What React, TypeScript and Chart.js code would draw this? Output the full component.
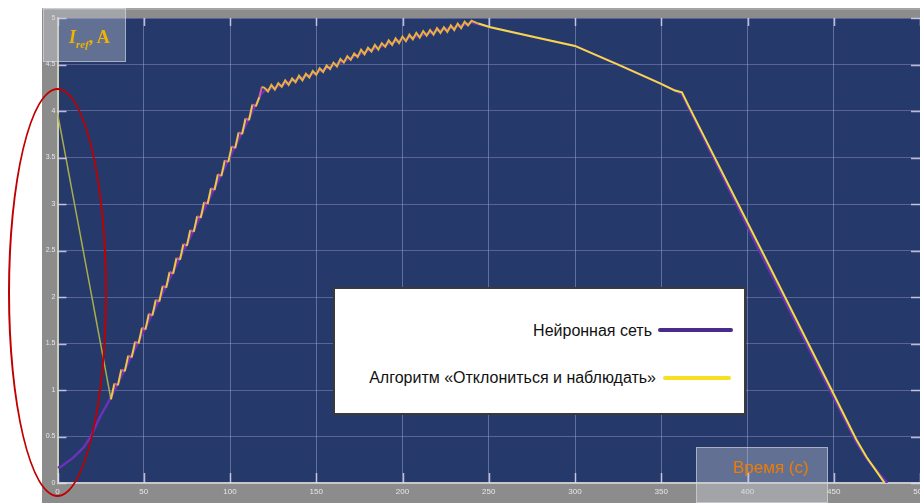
import React, { useEffect, useRef } from "react";
import { Chart, registerables } from "chart.js";

Chart.register(...registerables);

// Time axis ticks (s) and current axis ticks (A)
const xTickValues = [0, 50, 100, 150, 200, 250, 300, 350, 400, 450, 500];
const yTickValues = [0, 0.5, 1, 1.5, 2, 2.5, 3, 3.5, 4, 4.5, 5];

// Neural network series
const nnX = [0, 1.5, 9, 15, 19, 24.6, 31, 118, 120, 130, 140, 150, 160, 170, 180, 190, 200, 210, 220, 230, 240, 251, 275, 300, 326, 349, 358, 362, 409, 448, 463, 470, 481];
const nnY = [0.17, 0.17, 0.27, 0.38, 0.49, 0.71, 0.92, 4.18, 4.22, 4.28, 4.35, 4.41, 4.49, 4.57, 4.65, 4.71, 4.77, 4.81, 4.86, 4.9, 4.95, 4.9, 4.8, 4.7, 4.49, 4.3, 4.22, 4.18, 2.42, 0.99, 0.44, 0.24, 0.0];

// Perturb & Observe series
const poX = [
  0, 31, 33, 35, 37, 39, 41, 43, 45, 47, 49, 51, 53, 55, 57, 59, 61, 63, 65, 67, 69, 71, 73, 75, 77, 79, 81, 83, 85, 87, 89, 91, 93, 95, 97, 99, 101, 103, 105, 107, 109, 111, 113, 115, 117, 118.5,
  120, 122, 124, 126, 128, 130, 132, 134, 136, 138, 140, 142, 144, 146, 148, 150, 152, 154, 156, 158, 160, 162, 164, 166, 168, 170, 172, 174, 176, 178, 180, 182, 184, 186, 188, 190, 192, 194, 196, 198, 200, 202, 204, 206, 208, 210, 212, 214, 216, 218, 220, 222, 224, 226, 228, 230, 232, 234, 236, 238, 240,
  244, 251, 275, 300, 326, 349, 358, 362, 366, 409, 448, 463, 469, 475, 479.5,
];
const poY = [
  3.98, 0.9, 1.07, 1.05, 1.22, 1.2, 1.37, 1.35, 1.52, 1.5, 1.67, 1.65, 1.82, 1.8, 1.97, 1.95, 2.12, 2.1, 2.27, 2.25, 2.42, 2.4, 2.57, 2.55, 2.72, 2.7, 2.87, 2.85, 3.02, 3.0, 3.17, 3.15, 3.32, 3.3, 3.47, 3.45, 3.62, 3.6, 3.77, 3.75, 3.92, 3.9, 4.07, 4.05, 4.15, 4.26,
  4.25, 4.21, 4.28, 4.23, 4.3, 4.26, 4.33, 4.28, 4.35, 4.31, 4.38, 4.33, 4.4, 4.36, 4.43, 4.39, 4.46, 4.42, 4.49, 4.45, 4.52, 4.48, 4.56, 4.52, 4.59, 4.55, 4.62, 4.58, 4.66, 4.61, 4.68, 4.64, 4.71, 4.66, 4.73, 4.69, 4.76, 4.71, 4.78, 4.73, 4.8, 4.75, 4.82, 4.77, 4.84, 4.79, 4.86, 4.81, 4.87, 4.82, 4.89, 4.84, 4.9, 4.85, 4.92, 4.87, 4.94, 4.89, 4.96, 4.92, 4.97,
  4.94, 4.9, 4.8, 4.7, 4.49, 4.3, 4.22, 4.2, 4.05, 2.47, 1.03, 0.47, 0.28, 0.12, 0.0,
];

const legendLabels = ["Нейронная сеть", "Алгоритм «Отклониться и наблюдать»"];

const NAVY = "#25396a";
const FRAME = "#8c8c8c";

const framePlugin = {
  id: "frame",
  beforeDraw(chart: any) {
    const { ctx, chartArea, width, height } = chart;
    ctx.save();
    ctx.fillStyle = "#ffffff";
    ctx.fillRect(0, 0, width, height);
    ctx.fillStyle = FRAME;
    ctx.fillRect(42, 8, width - 42, height - 8);
    ctx.fillStyle = "#a4a4a4";
    ctx.fillRect(42, 8, width - 42, 2);
    ctx.fillStyle = NAVY;
    ctx.fillRect(chartArea.left, chartArea.top, chartArea.right - chartArea.left, chartArea.bottom - chartArea.top);
    ctx.restore();
  },
  afterDatasetsDraw(chart: any) {
    const { ctx, chartArea, scales } = chart;
    ctx.save();
    ctx.strokeStyle = "rgba(225,220,245,0.8)";
    ctx.lineWidth = 1.5;
    scales.y.ticks.forEach((t: any) => {
      const py = Math.round(scales.y.getPixelForValue(t.value)) + 0.5;
      ctx.beginPath();
      ctx.moveTo(chartArea.left, py);
      ctx.lineTo(chartArea.left + 9, py);
      ctx.moveTo(chartArea.right - 9, py);
      ctx.lineTo(chartArea.right, py);
      ctx.stroke();
    });
    scales.x.ticks.forEach((t: any) => {
      const px = Math.round(scales.x.getPixelForValue(t.value)) + 0.5;
      ctx.beginPath();
      ctx.moveTo(px, chartArea.bottom);
      ctx.lineTo(px, chartArea.bottom - 10);
      ctx.moveTo(px, chartArea.top);
      ctx.lineTo(px, chartArea.top + 8);
      ctx.stroke();
    });
    ctx.restore();
  },
};

function poColor(ctx: any) {
  const x = ctx.p0.parsed.x;
  if (x < 30) return "#a9ad4c";
  if (x < 118) return ctx.p0DataIndex % 2 === 1 ? "#f0c844" : "#d0609a";
  if (x < 241) return "#e8b23c";
  return "#f0dc40";
}

export default function App() {
  const ref = useRef<HTMLCanvasElement>(null);

  useEffect(() => {
    if (!ref.current) return;
    const nnData = nnX.map((x, i) => ({ x, y: nnY[i] }));
    const poData = poX.map((x, i) => ({ x, y: poY[i] }));
    const chart = new Chart(ref.current, {
      type: "line",
      data: {
        datasets: [
          {
            label: legendLabels[1],
            data: poData,
            borderColor: "#f0dc40",
            borderWidth: 2,
            pointRadius: 0,
            tension: 0,
            order: 1,
            segment: {
              borderColor: poColor,
              borderWidth: (c: any) => (c.p0.parsed.x < 30 ? 1.5 : 2),
            },
          },
          {
            label: legendLabels[0],
            data: nnData,
            borderColor: "#6b32b8",
            borderWidth: 2.5,
            pointRadius: 0,
            tension: 0,
            order: 2,
          },
        ],
      },
      options: {
        animation: false,
        responsive: true,
        maintainAspectRatio: false,
        layout: { padding: { left: 42, top: 18, right: 0, bottom: 0 } },
        plugins: { legend: { display: false }, tooltip: { enabled: false } },
        scales: {
          x: {
            type: "linear",
            min: 0,
            max: 500,
            afterBuildTicks: (s: any) => {
              s.ticks = xTickValues.map((v) => ({ value: v }));
            },
            afterFit: (s: any) => {
              s.height = 20;
              s.paddingLeft = 0;
              s.paddingRight = 0;
            },
            ticks: {
              color: "#e6e6e6",
              font: { family: "Liberation Sans", size: 8 },
              padding: 4,
              maxRotation: 0,
              autoSkip: false,
              callback: (v: any) => String(v),
            },
            grid: { color: "rgba(185,185,225,0.42)", lineWidth: 1, drawTicks: false },
            border: { display: true, color: "#c9c9c9", width: 2 },
          },
          y: {
            type: "linear",
            min: 0,
            max: 5,
            afterBuildTicks: (s: any) => {
              s.ticks = yTickValues.map((v) => ({ value: v }));
            },
            afterFit: (s: any) => {
              s.width = 15.5;
              s.paddingTop = 0;
              s.paddingBottom = 0;
            },
            ticks: {
              color: "#e6e6e6",
              font: { family: "Liberation Sans", size: 7 },
              padding: 2,
              autoSkip: false,
              callback: (v: any) => String(v),
            },
            grid: { color: "rgba(165,155,215,0.42)", lineWidth: 1, drawTicks: false },
            border: { display: true, color: "#cfcdb0", width: 2 },
          },
        },
      },
      plugins: [framePlugin],
    });
    return () => chart.destroy();
  }, []);

  return (
    <div style={{ position: "fixed", left: 0, top: 0, width: 920, height: 503, overflow: "hidden", background: "#fff" }}>
      <canvas ref={ref} width={920} height={503} style={{ position: "absolute", left: 0, top: 0, width: 920, height: 503 }} />
      {/* I_ref label box */}
      <div
        style={{
          position: "absolute",
          left: 43,
          top: 8,
          width: 83,
          height: 54,
          background: "rgba(200,204,215,0.38)",
          border: "1px solid rgba(225,225,235,0.55)",
          boxSizing: "border-box",
        }}
      />
      <div
        style={{
          position: "absolute",
          left: 69,
          top: 27,
          fontFamily: "'Liberation Serif', serif",
          fontWeight: "bold",
          fontSize: 18,
          color: "#f0b400",
          lineHeight: "20px",
          whiteSpace: "nowrap",
        }}
      >
        <span style={{ fontStyle: "italic" }}>I</span>
        <span style={{ fontStyle: "italic", fontSize: 11, position: "relative", top: 5 }}>ref</span>
        <span>, A</span>
      </div>
      {/* Time label box */}
      <div
        style={{
          position: "absolute",
          left: 696,
          top: 447,
          width: 132,
          height: 56,
          background: "rgba(200,204,215,0.38)",
          border: "1px solid rgba(225,225,235,0.55)",
          boxSizing: "border-box",
        }}
      />
      <div
        style={{
          position: "absolute",
          left: 733,
          top: 457,
          fontFamily: "'Liberation Sans', Arial, sans-serif",
          fontSize: 17,
          lineHeight: "22px",
          color: "#ef7c00",
          whiteSpace: "nowrap",
        }}
      >
        Время (с)
      </div>
      {/* Legend */}
      <div
        style={{
          position: "absolute",
          left: 333,
          top: 287,
          width: 413,
          height: 128,
          background: "#ffffff",
          border: "2px solid #3a3a3a",
          boxSizing: "border-box",
        }}
      />
      <div
        style={{
          position: "absolute",
          right: 920 - 652,
          top: 320,
          fontFamily: "'Liberation Sans', Arial, sans-serif",
          fontSize: 16,
          lineHeight: "22px",
          color: "#111",
          whiteSpace: "nowrap",
        }}
      >
        {legendLabels[0]}
      </div>
      <div style={{ position: "absolute", left: 658, top: 328, width: 75, height: 4, background: "#4a2a8a", borderRadius: 2 }} />
      <div
        style={{
          position: "absolute",
          right: 920 - 656,
          top: 367,
          fontFamily: "'Liberation Sans', Arial, sans-serif",
          fontSize: 16,
          lineHeight: "22px",
          color: "#111",
          whiteSpace: "nowrap",
        }}
      >
        {legendLabels[1]}
      </div>
      <div style={{ position: "absolute", left: 663, top: 376, width: 68, height: 4, background: "#f5e021", borderRadius: 2 }} />
      {/* Red ellipse annotation */}
      <div
        style={{
          position: "absolute",
          left: 8,
          top: 88,
          width: 99,
          height: 409,
          border: "2px solid #c00000",
          borderRadius: "50%",
          boxSizing: "border-box",
        }}
      />
    </div>
  );
}
